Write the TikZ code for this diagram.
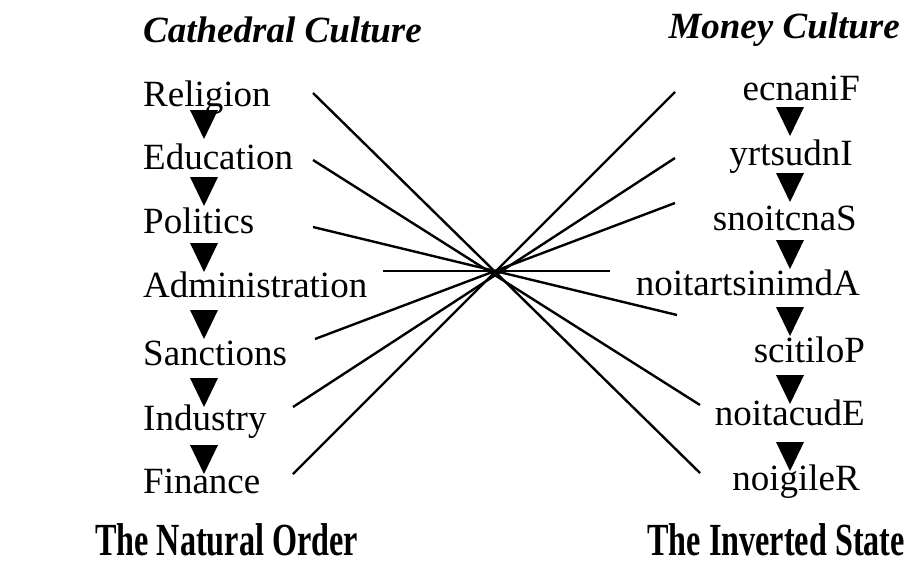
\documentclass[tikz,border=0pt]{standalone}
\usepackage{fontspec}
\setmainfont{Liberation Serif}
\begin{document}
\begin{tikzpicture}[x=1pt,y=-1pt,
  word/.style={inner sep=0pt, font=\fontsize{37}{40}\selectfont},
  ttl/.style={inner sep=0pt, font=\fontsize{37}{40}\selectfont\bfseries\itshape},
  foot/.style={inner sep=0pt, xscale=0.7, font=\fontsize{46}{50}\selectfont\bfseries},
  link/.style={line width=2.4pt},
  tri/.style={fill=black}]
\useasboundingbox (0,0) rectangle (910,565);
% titles
\node[ttl, anchor=base west] (tl) at (143,42) {Cathedral Culture};
\node[ttl, anchor=base east] (tr) at (900,38) {Money Culture};
% left words
\node[word, anchor=base west] (l1) at (143,106) {Religion};
\node[word, anchor=base west] (l2) at (143,169) {Education};
\node[word, anchor=base west] (l3) at (143,233) {Politics};
\node[word, anchor=base west] (l4) at (143,297) {Administration};
\node[word, anchor=base west] (l5) at (143,365) {Sanctions};
\node[word, anchor=base west] (l6) at (143,430) {Industry};
\node[word, anchor=base west] (l7) at (143,493) {Finance};
% right words
\node[word, anchor=base east] (r1) at (860,100) {ecnaniF};
\node[word, anchor=base east] (r2) at (853,165) {yrtsudnI};
\node[word, anchor=base east] (r3) at (857,230) {snoitcnaS};
\node[word, anchor=base east] (r4) at (860,295) {noitartsinimdA};
\node[word, anchor=base east] (r5) at (865,362) {scitiloP};
\node[word, anchor=base east] (r6) at (865,425) {noitacudE};
\node[word, anchor=base east] (r7) at (860,490) {noigileR};
% triangles
\foreach \t in {110,177,243,310,378,445}
  \fill[tri] (190,\t) -- (218,\t) -- (204,\t+29) -- cycle;
\foreach \t in {107,173,240,307,375,442}
  \fill[tri] (776,\t) -- (804,\t) -- (790,\t+29) -- cycle;
% line ends
\coordinate (a1) at (313,93);
\coordinate (a2) at (313,160);
\coordinate (a3) at (313,227);
\coordinate (a4) at (383,271);
\coordinate (a5) at (315,339);
\coordinate (a6) at (293,407);
\coordinate (a7) at (293,474);
\coordinate (b1) at (675,92);
\coordinate (b2) at (675,158);
\coordinate (b3) at (675,203);
\coordinate (b4) at (610,271);
\coordinate (b5) at (677,315);
\coordinate (b6) at (700,405);
\coordinate (b7) at (700,473);
\draw[link] (a1) -- (b7);
\draw[link] (a2) -- (b6);
\draw[link] (a3) -- (b5);
\draw[link] (a4) -- (b4);
\draw[link] (a5) -- (b3);
\draw[link] (a6) -- (b2);
\draw[link] (a7) -- (b1);
% footers
\node[foot, anchor=base west] (fl) at (95,555) {The Natural Order};
\node[foot, anchor=base east] (fr) at (905,555) {The Inverted State};
\end{tikzpicture}
\end{document}
